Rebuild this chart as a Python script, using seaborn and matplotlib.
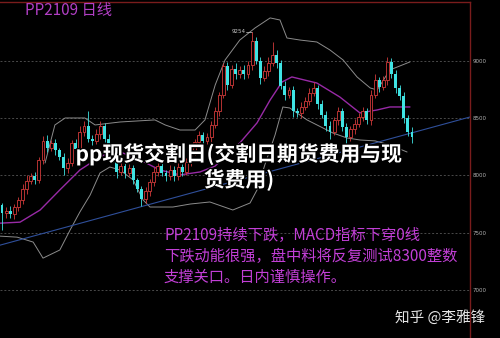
import numpy as np
import pandas as pd
import matplotlib
matplotlib.use("Agg")
import matplotlib.pyplot as plt
import matplotlib.patheffects as pe
import seaborn as sns

# ---------------- data ----------------
first_open = 7740
closes = [7670, 7690, 7660, 7720, 7780, 7880, 7950, 7990, 7960, 8130,
          8300, 8240, 8280, 8220, 8160, 8060, 8110, 8280, 8230, 8380,
          8430, 8320, 8300, 8360, 8430, 8320, 8240, 8150, 8030, 8080,
          8020, 8060, 7960, 7880, 7790, 7860, 7940, 8030, 8080, 8020,
          7990, 8050, 7990, 8070, 8030, 8120, 8210, 8290, 8350, 8300,
          8330, 8440, 8560, 8700, 8950, 8790, 8930, 8880, 8920, 8880,
          8960, 9170, 9000, 8850, 8910, 8980, 9050, 8980, 8780, 8700,
          8740, 8560, 8540, 8600, 8650, 8720, 8760, 8620, 8530, 8430,
          8380, 8480, 8560, 8420, 8330, 8400, 8450, 8510, 8560, 8480,
          8700, 8830, 8770, 8830, 8990, 8880, 8760, 8690, 8500, 8380,
          8330]
wick_up = [20, 30, 40, 25, 30, 40, 50, 30, 40, 30,
           40, 50, 30, 40, 20, 30, 40, 30, 40, 50,
           40, 130, 30, 40, 40, 30, 40, 30, 20, 40,
           30, 40, 30, 20, 30, 40, 30, 40, 30, 40,
           30, 40, 30, 40, 30, 30, 40, 30, 40, 30,
           40, 30, 40, 30, 30, 40, 30, 50, 30, 40,
           40, 84, 40, 30, 40, 50, 110, 40, 30, 40,
           30, 40, 30, 40, 30, 40, 50, 30, 40, 30,
           40, 30, 40, 30, 40, 30, 40, 30, 40, 30,
           40, 50, 30, 40, 40, 30, 40, 30, 40, 30,
           40]
wick_dn = [150, 40, 30, 40, 30, 30, 40, 30, 40, 30,
           30, 40, 30, 40, 30, 60, 40, 30, 40, 30,
           40, 30, 40, 30, 40, 30, 40, 30, 50, 30,
           40, 30, 40, 30, 60, 30, 40, 30, 40, 30,
           40, 30, 40, 30, 40, 30, 40, 30, 40, 30,
           30, 40, 30, 40, 30, 50, 30, 40, 30, 40,
           30, 40, 30, 50, 30, 40, 30, 40, 30, 40,
           30, 50, 30, 40, 30, 40, 30, 40, 30, 40,
           60, 30, 40, 30, 60, 30, 40, 30, 40, 30,
           40, 30, 40, 30, 40, 30, 40, 30, 40, 40,
           50]

upper_x = [10.5, 12.9, 15.4, 20.2, 22.7, 28.8, 37.3, 39.8, 43.4, 47.1, 49.5, 52.0, 54.4,
           58.0, 61.7, 65.4, 67.8, 69.5, 72.7, 76.8, 80.0, 83.2, 86.6, 89.8, 91.5, 94.6, 99.5]
upper_y = [8107, 8439, 8500, 8500, 8439, 8465, 8483, 8439, 8395, 8395, 8483, 8788, 9006,
           9180, 9285, 9373, 9355, 9198, 9180, 9163, 9093, 9006, 8858, 8762, 8744, 8919, 8989]
lower_x = [-0.5, 3.7, 7.6, 10.0, 14.1, 16.6, 19.0, 21.5, 23.9, 26.3, 28.8, 32.0, 34.4, 36.1,
           41.7, 45.9, 50.7, 56.3, 60.5, 62.2, 64.1, 66.6, 68.5, 70.2, 74.4, 80.7, 84.1,
           87.3, 91.0, 94.6, 98.8]
lower_y = [7469, 7460, 7417, 7277, 7348, 7522, 7680, 7828, 8020, 8072, 8046, 7959, 7785, 7723,
           7723, 7749, 7767, 7697, 7758, 7872, 8090, 8352, 8596, 8587, 8483, 8369, 8326,
           8308, 8300, 8265, 8203]
ma_x = [-0.5, 4.4, 9.3, 14.1, 19.0, 23.9, 27.6, 33.7, 38.5, 43.4, 48.3, 52.0, 58.0, 62.2,
        65.4, 68.3, 70.7, 76.8, 82.4, 87.3, 91.5, 94.6, 99.5]
ma_y = [7582, 7591, 7697, 7872, 8046, 8160, 8221, 8134, 8046, 8003, 8029, 8081, 8282, 8457,
        8657, 8814, 8858, 8805, 8683, 8544, 8570, 8596, 8596]
trend_x = [-0.5, 114.2]
trend_y = [7390, 8509]

price_ticks = [7000, 7500, 8000, 8500, 9000]
high_label = 9254
title_text = "PP2109 日线"
headline = "pp现货交割日(交割日期货费用与现\n货费用)"
comment_lines = ["PP2109持续下跌，MACD指标下穿0线",
                 "下跌动能很强，盘中料将反复测试8300整数",
                 "支撑关口。日内谨慎操作。"]
watermark = "知乎 @李雅锋"

# ---------------- derived ----------------
n = len(closes)
idx = np.arange(n)
opens = [first_open] + closes[:-1]
df = pd.DataFrame({"i": idx, "open": opens, "close": closes})
df["top"] = df[["open", "close"]].max(axis=1)
df["bot"] = df[["open", "close"]].min(axis=1)
df["high"] = df["top"] + np.array(wick_up)
df["low"] = df["bot"] - np.array(wick_dn)
df["up"] = df["close"] >= df["open"]

# ---------------- style ----------------
sns.set_theme(style="dark", rc={"axes.facecolor": "black", "figure.facecolor": "black"})
plt.rcParams["font.family"] = ["Noto Sans CJK SC", "DejaVu Sans"]

fig = plt.figure(figsize=(5.0, 3.38), dpi=100)
ax = fig.add_axes([0.0, 0.0, 0.94, 336 / 338])
ax.set_facecolor("black")
ax.set_xlim(-0.49, 114.15)
ax.set_ylim(6580, 9512)

# grid lines
for p in price_ticks:
    ax.axhline(p, color="#4a4a4a", lw=0.7, ls=(0, (2, 2)), zorder=1)

RED = "#d23a3a"
CYAN = "#3fe3e3"
bw = 0.72
up = df[df["up"]]
dn = df[~df["up"]]
ax.vlines(up["i"], up["low"], up["bot"], color=RED, lw=0.6, zorder=3)
ax.vlines(up["i"], up["top"], up["high"], color=RED, lw=0.6, zorder=3)
ax.bar(up["i"], up["top"] - up["bot"], bottom=up["bot"], width=bw,
       facecolor="black", edgecolor=RED, linewidth=0.6, zorder=4)
ax.vlines(dn["i"], dn["low"], dn["high"], color=CYAN, lw=0.6, zorder=3)
ax.bar(dn["i"], dn["top"] - dn["bot"], bottom=dn["bot"], width=bw,
       color=CYAN, linewidth=0, zorder=4)

sns.lineplot(x=upper_x, y=upper_y, ax=ax, color="#8c8c8c", lw=0.7, zorder=2)
sns.lineplot(x=lower_x, y=lower_y, ax=ax, color="#8c8c8c", lw=0.7, zorder=2)
sns.lineplot(x=ma_x, y=ma_y, ax=ax, color="#982aa6", lw=1.0, zorder=2)
sns.lineplot(x=trend_x, y=trend_y, ax=ax, color="#2f4f9a", lw=0.8, zorder=2)

# high label
ax.text(59.3, high_label, str(high_label), color="#c8c8c8", fontsize=4,
        ha="right", va="center", family="DejaVu Sans")
ax.plot([59.5, 61.0], [high_label, high_label], color="#c8c8c8", lw=0.5)

# frame
for s in ["left", "bottom"]:
    ax.spines[s].set_visible(False)
for s in ["top", "right"]:
    ax.spines[s].set_visible(True)
    ax.spines[s].set_color("#7a1c1c")
    ax.spines[s].set_linewidth(1.0)
ax.set_xticks([])
ax.yaxis.tick_right()
ax.set_yticks(price_ticks)
ax.set_yticklabels([str(p) for p in price_ticks], fontsize=4, color="#b0b0b0",
                   family="DejaVu Sans")
ax.tick_params(axis="y", length=0, pad=2)
ax.set_xlabel("")
ax.set_ylabel("")

# texts
W, H = 500, 338
fig.text(25 / W, 1 - 10 / H, title_text, color="#b13fc4", fontsize=11,
         ha="left", va="center")
fig.text(239 / W, 1 - 167 / H, headline, color="white", fontsize=15, fontweight="bold",
         ha="center", va="center", linespacing=1.2,
         path_effects=[pe.withStroke(linewidth=2.0, foreground="black")])
for k, line in enumerate(comment_lines):
    fig.text(164 / W, 1 - (235 + 21 * k) / H, line, color="#c23fd6", fontsize=11,
             ha="left", va="center")
fig.text(440 / W, 1 - 317 / H, watermark, color="#e6e6e6", fontsize=10.5,
         ha="center", va="center")

fig.savefig("out.png", dpi=100, facecolor="black")
